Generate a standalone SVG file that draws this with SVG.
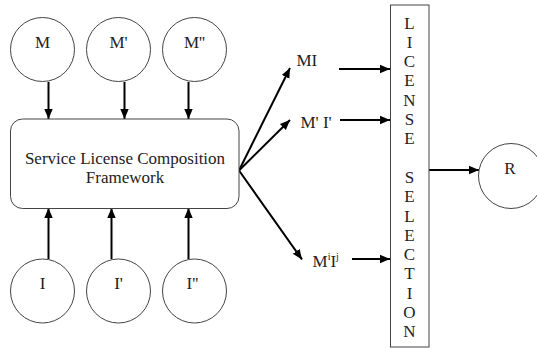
<svg xmlns="http://www.w3.org/2000/svg" width="537" height="348" viewBox="0 0 537 348">
<defs>
<marker id="ah" markerUnits="userSpaceOnUse" markerWidth="12" markerHeight="10" refX="10" refY="5" orient="auto">
<path d="M0,0.8 L10,5 L0,9.2 Z" fill="#000"/>
</marker>
<style>
.c{fill:#fff;stroke:#444;stroke-width:1}
.t{font-family:"Liberation Serif","Times New Roman",serif;font-size:17px;fill:#222;text-anchor:middle}
.tl{font-family:"Liberation Serif","Times New Roman",serif;font-size:17px;fill:#222}
.a{stroke:#000;stroke-width:2;fill:none;marker-end:url(#ah)}
</style>
</defs>
<rect width="537" height="348" fill="#fff"/>
<g id="connectors">
<line class="a" x1="48.5" y1="82" x2="48.5" y2="119"/>
<line class="a" x1="124.5" y1="82" x2="124.5" y2="119"/>
<line class="a" x1="188.5" y1="82" x2="188.5" y2="119"/>
<line class="a" x1="48.5" y1="259" x2="48.5" y2="208"/>
<line class="a" x1="111.5" y1="259" x2="111.5" y2="208"/>
<line class="a" x1="188.5" y1="259" x2="188.5" y2="208"/>
<line class="a" x1="239" y1="170.5" x2="290" y2="68"/>
<line class="a" x1="239" y1="170.5" x2="290" y2="120"/>
<line class="a" x1="239" y1="170.5" x2="302" y2="259.5"/>
<line class="a" x1="339" y1="69" x2="390" y2="69"/>
<line class="a" x1="340" y1="120" x2="390" y2="120"/>
<line class="a" x1="352" y1="259" x2="390" y2="259"/>
<line class="a" x1="429" y1="170" x2="479" y2="170"/>
</g>
<g id="M"><circle class="c" cx="42.5" cy="49.5" r="32"/><text class="t" x="42.5" y="47.5">M</text></g>
<g id="M1"><circle class="c" cx="118.5" cy="49.5" r="32"/><text class="t" x="118.5" y="47.5">M'</text></g>
<g id="M2"><circle class="c" cx="194.5" cy="49.5" r="32"/><text class="t" x="194.5" y="47.5">M''</text></g>
<g id="framework">
<rect x="10.5" y="119" width="228.5" height="89.5" rx="12" ry="12" fill="#fff" stroke="#444" stroke-width="1"/>
<text class="t" x="125" y="164">Service License Composition</text>
<text class="t" x="125" y="183.3">Framework</text>
</g>
<g id="I"><circle class="c" cx="42.5" cy="291" r="32"/><text class="t" x="42.5" y="288.5">I</text></g>
<g id="I1"><circle class="c" cx="118.5" cy="291" r="32"/><text class="t" x="118.5" y="288.5">I'</text></g>
<g id="I2"><circle class="c" cx="194.5" cy="291" r="32"/><text class="t" x="192.5" y="288.5">I''</text></g>
<g id="MI"><text class="tl" x="296.5" y="66">MI</text></g>
<g id="MpIp"><text class="tl" x="300.5" y="128">M' I'</text></g>
<g id="MiIj"><text class="tl" x="312.5" y="267">M<tspan font-size="10" dy="-7">i</tspan><tspan dy="7">I</tspan><tspan font-size="10" dy="-7">j</tspan></text></g>
<g id="license">
<rect x="390.5" y="5" width="38.5" height="342" fill="#fff" stroke="#444" stroke-width="1"/>
<text class="t" x="409.5" y="28.5">L</text>
<text class="t" x="409.5" y="47.8">I</text>
<text class="t" x="409.5" y="67.1">C</text>
<text class="t" x="409.5" y="86.4">E</text>
<text class="t" x="409.5" y="105.7">N</text>
<text class="t" x="409.5" y="125">S</text>
<text class="t" x="409.5" y="144.3">E</text>
<text class="t" x="409.5" y="182.9">S</text>
<text class="t" x="409.5" y="202.2">E</text>
<text class="t" x="409.5" y="221.5">L</text>
<text class="t" x="409.5" y="240.8">E</text>
<text class="t" x="409.5" y="260.1">C</text>
<text class="t" x="409.5" y="279.4">T</text>
<text class="t" x="409.5" y="298.7">I</text>
<text class="t" x="409.5" y="318">O</text>
<text class="t" x="409.5" y="337.3">N</text>
</g>
<g id="R"><circle class="c" cx="511" cy="176" r="32.5"/><text class="t" x="510" y="174">R</text></g>
</svg>
